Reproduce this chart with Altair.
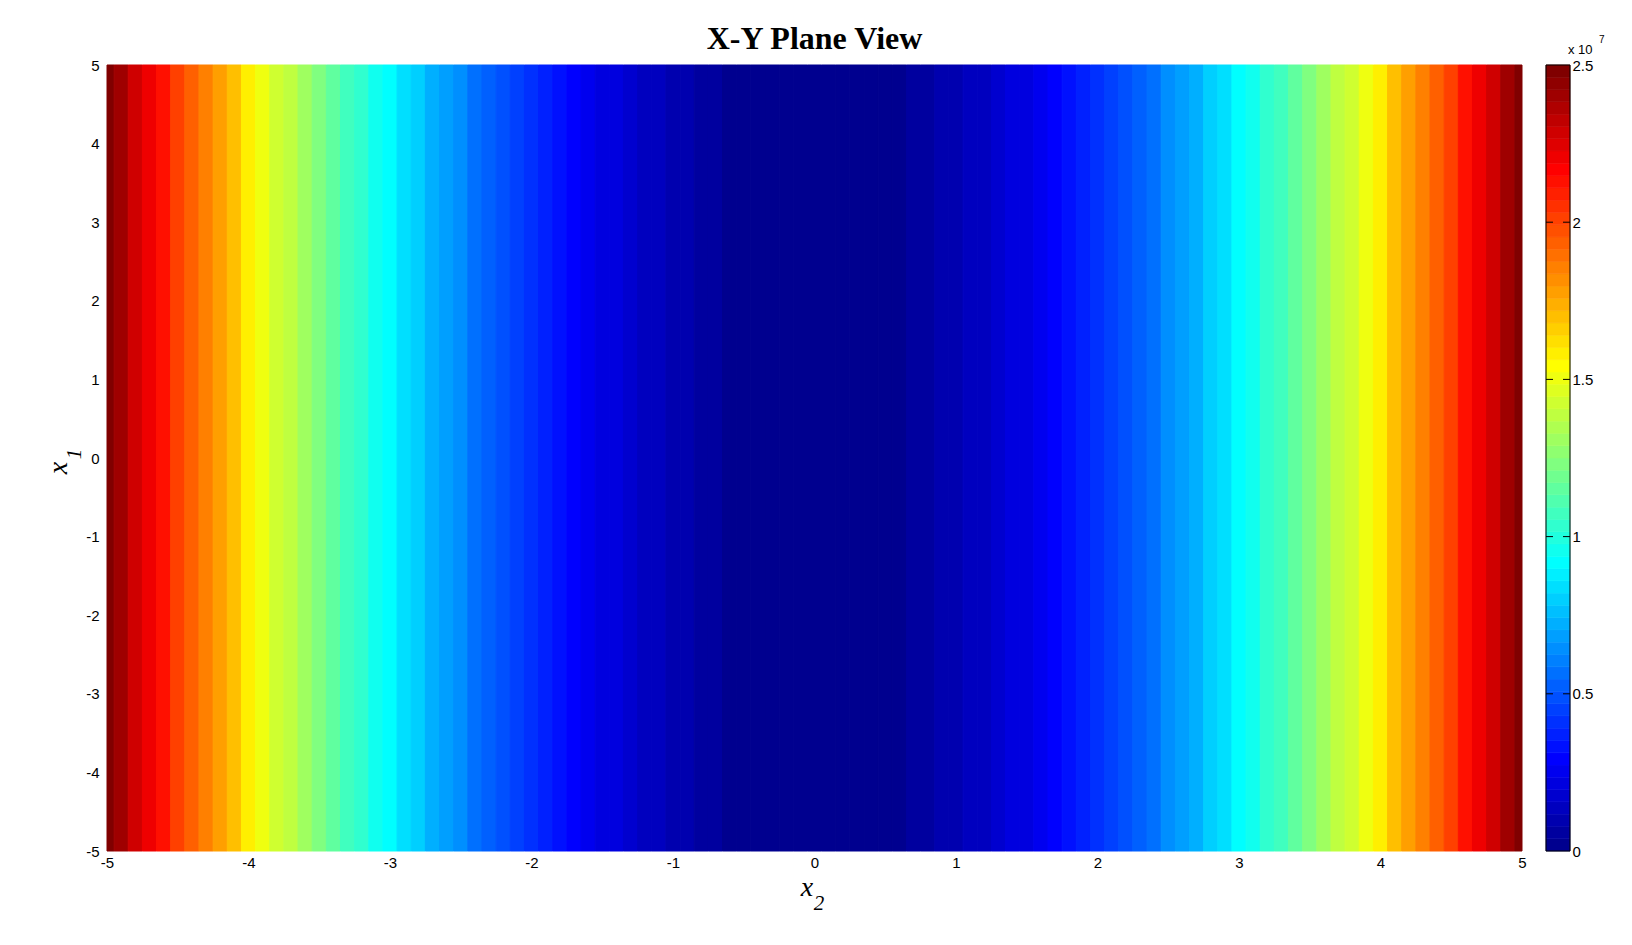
import altair as alt
import pandas as pd

# ---- data (value depends only on x2; units of 1e6) ----
x2_grid = [round(-5 + 0.1 * i, 1) for i in range(101)]
z_values = [
    25.00, 24.01, 23.04, 22.09, 21.16, 20.25, 19.36, 18.49, 17.64, 16.81,
    16.00, 15.21, 14.44, 13.69, 12.96, 12.25, 11.56, 10.89, 10.24, 9.61,
    9.00, 8.41, 7.84, 7.29, 6.76, 6.25, 5.76, 5.29, 4.84, 4.41,
    4.00, 3.61, 3.24, 2.89, 2.56, 2.25, 1.96, 1.69, 1.44, 1.21,
    1.00, 0.81, 0.64, 0.49, 0.36, 0.25, 0.16, 0.09, 0.04, 0.01,
    0.00,
    0.01, 0.04, 0.09, 0.16, 0.25, 0.36, 0.49, 0.64, 0.81, 1.00,
    1.21, 1.44, 1.69, 1.96, 2.25, 2.56, 2.89, 3.24, 3.61, 4.00,
    4.41, 4.84, 5.29, 5.76, 6.25, 6.76, 7.29, 7.84, 8.41, 9.00,
    9.61, 10.24, 10.89, 11.56, 12.25, 12.96, 13.69, 14.44, 15.21, 16.00,
    16.81, 17.64, 18.49, 19.36, 20.25, 21.16, 22.09, 23.04, 24.01, 25.00,
]
axis_ticks = [-5, -4, -3, -2, -1, 0, 1, 2, 3, 4, 5]
cbar_ticks = [0, 0.5, 1, 1.5, 2, 2.5]
cbar_inner_ticks = [0.5, 1, 1.5, 2]
title_text = "X-Y Plane View"


# ---- MATLAB jet(64) colormap ----
def jet(n=64):
    n4 = n // 4
    u = [i / n4 for i in range(1, n4 + 1)] + [1.0] * (n4 - 1) + [i / n4 for i in range(n4, 0, -1)]
    g0 = n4 // 2 - (1 if n % 4 == 1 else 0)
    cols = [[0.0, 0.0, 0.0] for _ in range(n)]
    for k, uv in enumerate(u, start=1):
        g = g0 + k
        r = g + n4
        b = g - n4
        if 1 <= g <= n:
            cols[g - 1][1] = uv
        if 1 <= r <= n:
            cols[r - 1][0] = uv
        if 1 <= b <= n:
            cols[b - 1][2] = uv
    return ["#%02x%02x%02x" % tuple(int(round(c * 255)) for c in col) for col in cols]


JET = jet(64)

half = 0.05
df = pd.DataFrame({
    "x_lo": [max(-5.0, x - half) for x in x2_grid],
    "x_hi": [min(5.0, x + half) for x in x2_grid],
    "y_lo": [-5.0] * len(x2_grid),
    "y_hi": [5.0] * len(x2_grid),
    "z": z_values,
})

W, H = 1415, 786
FONT = "Liberation Sans"
SERIF = "Liberation Serif"

color_scale = alt.Scale(type="quantize", domain=[0, 25], range=JET, nice=False, zero=False)

axis_common = dict(
    values=axis_ticks, title=None, ticks=False, domain=False, grid=False,
    labelFlush=False, labelOverlap=False, labelFont=FONT, labelFontSize=15,
    labelColor="black", labelExpr="'' + datum.value",
)

heat = alt.Chart(df).mark_rect(strokeWidth=1).encode(
    x=alt.X("x_lo:Q", scale=alt.Scale(domain=[-5, 5], nice=False, zero=False),
            axis=alt.Axis(labelPadding=4, **axis_common)),
    x2="x_hi:Q",
    y=alt.Y("y_lo:Q", scale=alt.Scale(domain=[-5, 5], nice=False, zero=False),
            axis=alt.Axis(labelPadding=8, **axis_common)),
    y2="y_hi:Q",
    color=alt.Color("z:Q", scale=color_scale, legend=None),
    stroke=alt.Stroke("z:Q", scale=color_scale, legend=None),
)

lab = pd.DataFrame({"a": [0]})
xt = alt.Chart(lab).mark_text(text="x", font=SERIF, fontStyle="italic", fontSize=28,
                              baseline="alphabetic", align="center", color="black").encode(
    x=alt.value(700), y=alt.value(831))
xs = alt.Chart(lab).mark_text(text="2", font=SERIF, fontStyle="italic", fontSize=21,
                              baseline="alphabetic", align="center", color="black").encode(
    x=alt.value(712), y=alt.value(845))
yt = alt.Chart(lab).mark_text(text="x", font=SERIF, fontStyle="italic", fontSize=28, angle=270,
                              baseline="alphabetic", align="center", color="black").encode(
    x=alt.value(-40), y=alt.value(403))
ys = alt.Chart(lab).mark_text(text="1", font=SERIF, fontStyle="italic", fontSize=21, angle=270,
                              baseline="alphabetic", align="center", color="black").encode(
    x=alt.value(-26), y=alt.value(389))

main = alt.layer(heat, xt, xs, yt, ys).properties(
    width=W, height=H,
    title=alt.TitleParams(title_text, font=SERIF, fontSize=32, fontWeight="bold",
                          color="black", anchor="middle", offset=2),
)

# ---- colorbar ----
lv = pd.DataFrame({
    "lo": [i * 2.5 / 64 for i in range(64)],
    "hi": [(i + 1) * 2.5 / 64 for i in range(64)],
    "c": JET,
})
CBW = 24
cb_rect = alt.Chart(lv).mark_rect(strokeWidth=0.6).encode(
    x=alt.value(0), x2=alt.value(CBW),
    y=alt.Y("lo:Q", scale=alt.Scale(domain=[0, 2.5], nice=False, zero=False),
            axis=alt.Axis(orient="right", values=cbar_ticks, title=None, ticks=False, domain=False,
                          grid=False, labelFlush=False, labelOverlap=False, labelFont=FONT,
                          labelFontSize=15, labelColor="black", labelPadding=2,
                          labelExpr="'' + datum.value")),
    y2="hi:Q",
    color=alt.Color("c:N", scale=None),
    stroke=alt.Stroke("c:N", scale=None),
)
tk = pd.DataFrame({"v": cbar_inner_ticks})
cb_tl = alt.Chart(tk).mark_rule(color="black", strokeWidth=1).encode(
    y="v:Q", x=alt.value(0), x2=alt.value(7))
cb_tr = alt.Chart(tk).mark_rule(color="black", strokeWidth=1).encode(
    y="v:Q", x=alt.value(CBW - 7), x2=alt.value(CBW))
cb_frame = alt.Chart(lab).mark_rect(fill="transparent", stroke="black", strokeWidth=1).encode(
    x=alt.value(0), x2=alt.value(CBW), y=alt.value(0), y2=alt.value(H))
cb_x = alt.Chart(lab).mark_text(text="x 10", font=FONT, fontSize=13, align="left",
                                baseline="alphabetic", color="black").encode(
    x=alt.value(22), y=alt.value(-11))
cb_e = alt.Chart(lab).mark_text(text="7", font=FONT, fontSize=10, align="left",
                                baseline="alphabetic", color="black").encode(
    x=alt.value(53), y=alt.value(-22))

cbar = alt.layer(cb_rect, cb_tl, cb_tr, cb_frame, cb_x, cb_e).properties(width=CBW, height=H)

chart = alt.hconcat(main, cbar, spacing=18).properties(
    padding={"left": 36, "top": 14, "right": 5, "bottom": 5},
    background="white",
).configure_view(stroke="transparent")

chart.save("out.html", embed_options={"renderer": "svg", "actions": False})
